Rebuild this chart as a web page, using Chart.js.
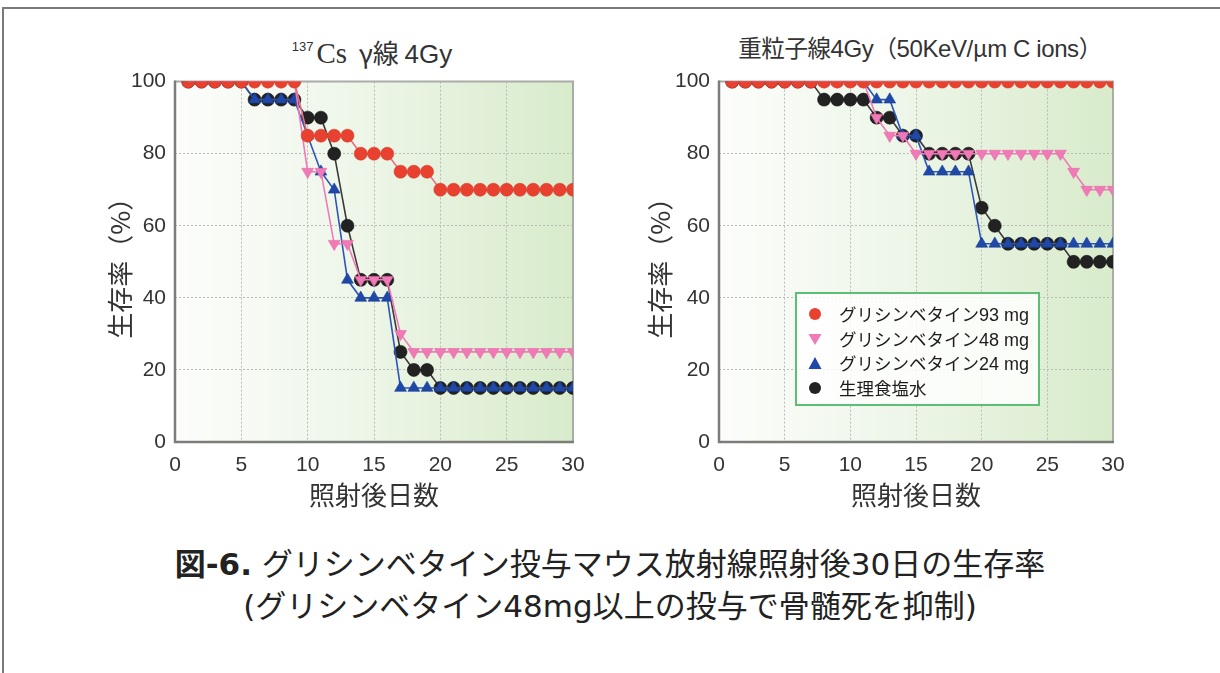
<!DOCTYPE html>
<html lang="ja">
<head>
<meta charset="utf-8">
<title>グリシンベタイン投与マウス放射線照射後30日の生存率</title>
<script src="https://cdn.jsdelivr.net/npm/chart.js@4.4.1/dist/chart.umd.min.js"></script>
<style>
  html, body { margin: 0; padding: 0; background: #fff; }
  body { width: 1220px; height: 673px; position: relative; overflow: hidden;
         font-family: "Noto Sans CJK JP", "DejaVu Sans", sans-serif; color: #222; }
  .frame { position: absolute; left: 2px; top: 7px; width: 1260px; height: 720px;
           border-top: 2px solid #7a7a7a; border-left: 2px solid #7a7a7a; }
  canvas { position: absolute; }
  #csChart { left: 90px; top: 60px; }
  #ionChart { left: 630px; top: 60px; }
  .title { position: absolute; top: 29px; white-space: nowrap; color: #333;
           transform: translateX(-50%); line-height: 36px; }
  #csTitle { left: 372px; font-family: "Noto Sans CJK JP", sans-serif; font-size: 26px; }
  #csTitle sup { font-family: "Liberation Sans", sans-serif; font-size: 13px; vertical-align: 12px; margin-right: 3px; }
  #csTitle .el { font-family: "Liberation Serif", serif; font-size: 29px; }
  #csTitle .lat { font-family: "Liberation Sans", sans-serif; }
  #ionTitle { left: 920px; font-family: "Noto Sans CJK JP", sans-serif; font-size: 23.5px; letter-spacing: -0.4px; }
  #ionTitle .lat { font-family: "Liberation Sans", sans-serif; font-size: 24px; }
  .legend { position: absolute; left: 795px; top: 292px; width: 241px; height: 110px;
            border: 2px solid #5cbf74; background: rgba(255,255,255,0.82); }
  .legend .row { position: absolute; left: 10px; height: 26px; line-height: 26px;
                 font-size: 17.5px; white-space: nowrap; color: #1c1c1c; }
  .legend .row > svg { position: absolute; left: 0; top: 5px; }
  .legend .row > span { position: absolute; left: 32px; top: 0; }
  .legend .num { font-family: "Liberation Sans", sans-serif; font-size: 18px; }
  .caption { position: absolute; left: 0; top: 543px; width: 1220px; text-align: center;
             font-size: 31px; line-height: 42px; color: #222;
             font-family: "DejaVu Sans", "Noto Sans CJK JP", sans-serif; }
  .caption b { font-weight: bold; }
</style>
</head>
<body>
<div class="frame"></div>

<div class="title" id="csTitle"><sup>137</sup><span class="el">Cs</span>&nbsp;&nbsp;γ線 <span class="lat">4Gy</span></div>
<div class="title" id="ionTitle">重粒子線<span class="lat">4Gy</span>（<span class="lat">50KeV/</span>μ<span class="lat">m C ions</span>）</div>

<canvas id="csChart" width="510" height="452"></canvas>
<canvas id="ionChart" width="510" height="452"></canvas>

<div class="legend">
  <div class="row" style="top:7px"><svg width="16" height="16"><circle cx="8" cy="8" r="6" fill="#e8412f"/></svg><span>グリシンベタイン<span class="num">93 mg</span></span></div>
  <div class="row" style="top:32px"><svg width="16" height="16"><polygon points="1.5,3 14.5,3 8,14" fill="#f07ab6"/></svg><span>グリシンベタイン<span class="num">48 mg</span></span></div>
  <div class="row" style="top:56px"><svg width="16" height="16"><polygon points="1.5,14 14.5,14 8,2" fill="#1f48a8"/></svg><span>グリシンベタイン<span class="num">24 mg</span></span></div>
  <div class="row" style="top:81px"><svg width="16" height="16"><circle cx="8" cy="8" r="6" fill="#222"/></svg><span>生理食塩水</span></div>
</div>

<div class="caption"><b>図-6.</b> グリシンベタイン投与マウス放射線照射後30日の生存率<br>(グリシンベタイン48mg以上の投与で骨髄死を抑制)</div>

<script>
// Days after irradiation (x categories)
const days = [1, 2, 3, 4, 5, 6, 7, 8, 9, 10, 11, 12, 13, 14, 15, 16, 17, 18, 19, 20,
              21, 22, 23, 24, 25, 26, 27, 28, 29, 30];

// Survival rate (%) after 137Cs gamma-ray 4Gy
const csBetaine93 = [100, 100, 100, 100, 100, 100, 100, 100, 100, 85, 85, 85, 85, 80, 80, 80, 75, 75, 75, 70,
                     70, 70, 70, 70, 70, 70, 70, 70, 70, 70];
const csBetaine48 = [100, 100, 100, 100, 100, 100, 100, 100, 100, 75, 75, 55, 55, 45, 45, 45, 30, 25, 25, 25,
                     25, 25, 25, 25, 25, 25, 25, 25, 25, 25];
const csBetaine24 = [100, 100, 100, 100, 100, 95, 95, 95, 95, 85, 75, 70, 45, 40, 40, 40, 15, 15, 15, 15,
                     15, 15, 15, 15, 15, 15, 15, 15, 15, 15];
const csSaline    = [100, 100, 100, 100, 100, 95, 95, 95, 95, 90, 90, 80, 60, 45, 45, 45, 25, 20, 20, 15,
                     15, 15, 15, 15, 15, 15, 15, 15, 15, 15];

// Survival rate (%) after heavy-ion (C ions, 50KeV/μm) 4Gy
const ionBetaine93 = [100, 100, 100, 100, 100, 100, 100, 100, 100, 100, 100, 100, 100, 100, 100, 100, 100, 100, 100, 100,
                      100, 100, 100, 100, 100, 100, 100, 100, 100, 100];
const ionBetaine48 = [100, 100, 100, 100, 100, 100, 100, 100, 100, 100, 100, 90, 85, 85, 80, 80, 80, 80, 80, 80,
                      80, 80, 80, 80, 80, 80, 75, 70, 70, 70];
const ionBetaine24 = [100, 100, 100, 100, 100, 100, 100, 100, 100, 100, 100, 95, 95, 85, 85, 75, 75, 75, 75, 55,
                      55, 55, 55, 55, 55, 55, 55, 55, 55, 55];
const ionSaline    = [100, 100, 100, 100, 100, 100, 100, 95, 95, 95, 95, 90, 90, 85, 85, 80, 80, 80, 80, 65,
                      60, 55, 55, 55, 55, 55, 50, 50, 50, 50];

// Axis ticks
const xTicks = [0, 5, 10, 15, 20, 25, 30];
const yTicks = [0, 20, 40, 60, 80, 100];

const seriesLabels = ['グリシンベタイン93 mg', 'グリシンベタイン48 mg', 'グリシンベタイン24 mg', '生理食塩水'];

// Plot-area gradient background and frame
const plotFrame = {
  id: 'plotFrame',
  beforeDraw(chart) {
    const { ctx, chartArea: a } = chart;
    const g = ctx.createLinearGradient(a.left, 0, a.right, 0);
    g.addColorStop(0, '#fcfdfb');
    g.addColorStop(0.45, '#eef6e9');
    g.addColorStop(1, '#d8ebcb');
    ctx.save();
    ctx.fillStyle = g;
    ctx.fillRect(a.left, a.top, a.right - a.left, a.bottom - a.top);
    ctx.restore();
  },
  beforeDatasetsDraw(chart) {
    const { ctx, chartArea: a } = chart;
    ctx.save();
    ctx.lineWidth = 2;
    ctx.strokeStyle = '#a9aca7';
    ctx.beginPath();
    ctx.moveTo(a.left, a.top);
    ctx.lineTo(a.right, a.top);
    ctx.lineTo(a.right, a.bottom);
    ctx.stroke();
    ctx.strokeStyle = '#7b7d7a';
    ctx.lineWidth = 2.5;
    ctx.beginPath();
    ctx.moveTo(a.left, a.top - 1);
    ctx.lineTo(a.left, a.bottom);
    ctx.lineTo(a.right + 1, a.bottom);
    ctx.stroke();
    ctx.restore();
  }
};

function series(values) {
  return days.map((d, i) => ({ x: d, y: values[i] }));
}

function makeDatasets(v93, v48, v24, vSal) {
  const base = { borderWidth: 1.6, pointRadius: 6.5, pointHoverRadius: 6.5, pointBorderWidth: 0.6, tension: 0, fill: false };
  // listed top-most first: Chart.js paints dataset 0 last
  return [
    { ...base, label: seriesLabels[0], data: series(v93), borderColor: '#e5707f',
      pointStyle: 'circle', pointBackgroundColor: '#e8412f', pointBorderColor: '#d8392a' },
    { ...base, label: seriesLabels[1], data: series(v48), borderColor: '#f07ab6',
      pointStyle: 'triangle', pointRotation: 180, pointRadius: 6.8, pointBackgroundColor: '#f07ab6', pointBorderColor: '#e56aa8' },
    { ...base, label: seriesLabels[2], data: series(v24), borderColor: '#2d55b5',
      pointStyle: 'triangle', pointRadius: 6.8, pointBackgroundColor: '#1f48a8', pointBorderColor: '#1a3e95' },
    { ...base, label: seriesLabels[3], data: series(vSal), borderColor: '#3a3a3a',
      pointStyle: 'circle', pointBackgroundColor: '#222222', pointBorderColor: '#111111' }
  ];
}

function makeOptions(yAxisWidth) {
  const tickFont = { family: '"Liberation Sans", Arial, sans-serif', size: 21 };
  const titleFont = { family: '"Noto Sans CJK JP", sans-serif', size: 26 };
  const gridColor = (ctx) => {
    const v = ctx.tick && ctx.tick.value;
    return (v === 0 || v === 30 || v === 100) ? 'rgba(0,0,0,0)' : '#b9bbb6';
  };
  return {
    responsive: false,
    animation: false,
    events: [],
    layout: { padding: { left: 11, right: 27, top: 20, bottom: 0 } },
    plugins: { legend: { display: false }, tooltip: { enabled: false }, title: { display: false } },
    scales: {
      x: {
        type: 'linear', min: 0, max: 30,
        afterBuildTicks: (s) => { s.ticks = xTicks.map(v => ({ value: v })); },
        afterFit: (s) => { s.height = 70; },
        ticks: { color: '#333', font: tickFont, padding: 11, maxRotation: 0 },
        grid: { color: gridColor, lineWidth: 1, drawTicks: false },
        border: { display: false, dash: [2, 2] },
        title: { display: true, text: '照射後日数', color: '#333', font: titleFont, padding: { top: 2, bottom: 1 } }
      },
      y: {
        min: 0, max: 100,
        afterBuildTicks: (s) => { s.ticks = yTicks.map(v => ({ value: v })); },
        afterFit: (s) => { s.width = yAxisWidth; },
        ticks: { color: '#333', font: tickFont, padding: 9 },
        grid: { color: gridColor, lineWidth: 1, drawTicks: false },
        border: { display: false, dash: [2, 2] },
        title: { display: true, text: '生存率（%）', color: '#333', font: titleFont, padding: { top: 4, bottom: 4 } }
      }
    }
  };
}

new Chart(document.getElementById('csChart'), {
  type: 'line',
  data: { datasets: makeDatasets(csBetaine93, csBetaine48, csBetaine24, csSaline) },
  options: makeOptions(74),
  plugins: [plotFrame]
});

new Chart(document.getElementById('ionChart'), {
  type: 'line',
  data: { datasets: makeDatasets(ionBetaine93, ionBetaine48, ionBetaine24, ionSaline) },
  options: makeOptions(78),
  plugins: [plotFrame]
});
</script>
</body>
</html>
